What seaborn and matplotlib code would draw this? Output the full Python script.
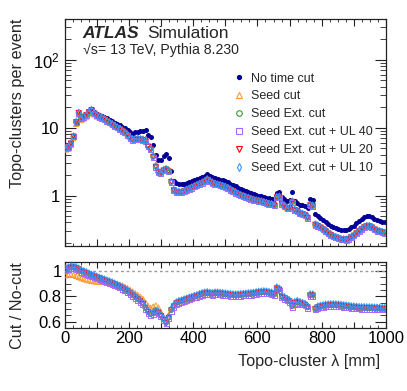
import numpy as np
import pandas as pd
import seaborn as sns
import matplotlib
matplotlib.use("Agg")
import matplotlib.pyplot as plt
from matplotlib.ticker import MultipleLocator, FixedLocator, NullFormatter, LogLocator
from matplotlib.lines import Line2D

# topo-cluster lambda bin centres, 8 mm bins from 0 to 1000 mm
lambda_mm = np.arange(4, 1000, 8)

# topo-clusters per event without any time cut
no_cut = [
    4.9, 5.0, 5.7, 7.2, 11.8, 16.3, 13.8, 14.6, 15.6, 17.4,
    18.9, 17.0, 15.9, 15.4, 15.0, 14.4, 13.7, 13.0, 12.4, 11.8,
    11.3, 10.9, 10.4, 9.9, 9.3, 8.6, 8.2, 8.5, 8.7, 8.8,
    8.9, 9.1, 7.8, 7.3, 5.6, 3.9, 3.3, 3.3, 3.8, 4.1,
    3.6, 2.3, 1.66, 1.52, 1.49, 1.47, 1.50, 1.55, 1.60, 1.65,
    1.70, 1.76, 1.82, 1.88, 1.95, 2.08, 1.97, 1.88, 1.80, 1.76,
    1.72, 1.68, 1.64, 1.58, 1.50, 1.43, 1.36, 1.30, 1.24, 1.19,
    1.15, 1.12, 1.08, 1.05, 1.02, 1.00, 0.98, 0.95, 0.93, 0.91,
    0.90, 0.88, 1.09, 1.12, 0.95, 0.88, 0.84, 0.86, 1.12, 0.82,
    0.78, 0.73, 0.72, 0.70, 0.66, 0.89, 0.87, 0.53, 0.50, 0.47,
    0.44, 0.41, 0.38, 0.36, 0.34, 0.33, 0.32, 0.31, 0.31, 0.31,
    0.32, 0.34, 0.36, 0.39, 0.42, 0.45, 0.48, 0.50, 0.50, 0.48,
    0.45, 0.43, 0.42, 0.41, 0.40,
]

# cut / no-cut ratios
ratio_seed = [
    0.965, 0.970, 0.972, 0.968, 0.960, 0.952, 0.943, 0.936, 0.930, 0.925,
    0.920, 0.917, 0.915, 0.914, 0.913, 0.911, 0.909, 0.906, 0.903, 0.899,
    0.895, 0.890, 0.885, 0.875, 0.865, 0.852, 0.838, 0.825, 0.812, 0.798,
    0.780, 0.752, 0.725, 0.710, 0.720, 0.728, 0.712, 0.675, 0.640, 0.615,
    0.655, 0.705, 0.735, 0.752, 0.759, 0.764, 0.772, 0.779, 0.786, 0.792,
    0.799, 0.806, 0.814, 0.821, 0.826, 0.829, 0.824, 0.822, 0.826, 0.826,
    0.824, 0.822, 0.819, 0.816, 0.814, 0.812, 0.811, 0.812, 0.814, 0.816,
    0.818, 0.820, 0.822, 0.824, 0.828, 0.832, 0.834, 0.836, 0.834, 0.830,
    0.826, 0.819, 0.866, 0.856, 0.799, 0.790, 0.777, 0.764, 0.726, 0.751,
    0.759, 0.751, 0.744, 0.737, 0.717, 0.811, 0.811, 0.704, 0.716, 0.722,
    0.726, 0.730, 0.732, 0.734, 0.734, 0.733, 0.732, 0.729, 0.726, 0.724,
    0.721, 0.718, 0.716, 0.714, 0.712, 0.711, 0.711, 0.710, 0.710, 0.709,
    0.708, 0.707, 0.706, 0.705, 0.704,
]
ratio_seed_ext = [
    1.013, 1.023, 1.030, 1.030, 1.025, 1.015, 1.001, 0.993, 0.985, 0.975,
    0.965, 0.958, 0.951, 0.943, 0.936, 0.928, 0.921, 0.913, 0.905, 0.896,
    0.887, 0.877, 0.867, 0.855, 0.841, 0.825, 0.811, 0.796, 0.780, 0.763,
    0.743, 0.708, 0.678, 0.663, 0.668, 0.683, 0.673, 0.648, 0.618, 0.593,
    0.633, 0.693, 0.723, 0.748, 0.758, 0.763, 0.771, 0.778, 0.785, 0.791,
    0.798, 0.805, 0.813, 0.820, 0.825, 0.828, 0.823, 0.821, 0.825, 0.825,
    0.823, 0.821, 0.818, 0.815, 0.813, 0.811, 0.810, 0.811, 0.813, 0.815,
    0.817, 0.819, 0.821, 0.823, 0.827, 0.831, 0.833, 0.835, 0.833, 0.829,
    0.825, 0.818, 0.865, 0.855, 0.798, 0.789, 0.776, 0.763, 0.725, 0.750,
    0.758, 0.750, 0.743, 0.736, 0.716, 0.810, 0.810, 0.703, 0.715, 0.721,
    0.725, 0.729, 0.731, 0.733, 0.733, 0.732, 0.731, 0.728, 0.725, 0.723,
    0.720, 0.717, 0.715, 0.713, 0.711, 0.710, 0.710, 0.709, 0.709, 0.708,
    0.707, 0.706, 0.705, 0.704, 0.703,
]
ratio_ul40 = [
    1.002, 1.012, 1.019, 1.019, 1.014, 1.004, 0.990, 0.982, 0.974, 0.964,
    0.954, 0.947, 0.940, 0.932, 0.925, 0.917, 0.910, 0.902, 0.894, 0.885,
    0.876, 0.866, 0.856, 0.844, 0.830, 0.814, 0.800, 0.785, 0.769, 0.752,
    0.732, 0.697, 0.667, 0.652, 0.657, 0.672, 0.662, 0.637, 0.607, 0.582,
    0.622, 0.682, 0.712, 0.737, 0.747, 0.752, 0.760, 0.767, 0.774, 0.780,
    0.787, 0.794, 0.802, 0.809, 0.814, 0.817, 0.812, 0.810, 0.814, 0.814,
    0.812, 0.810, 0.807, 0.804, 0.802, 0.800, 0.799, 0.800, 0.802, 0.804,
    0.806, 0.808, 0.810, 0.812, 0.816, 0.820, 0.822, 0.824, 0.822, 0.818,
    0.814, 0.807, 0.854, 0.844, 0.787, 0.778, 0.765, 0.752, 0.714, 0.739,
    0.747, 0.739, 0.732, 0.725, 0.705, 0.799, 0.799, 0.692, 0.704, 0.710,
    0.714, 0.718, 0.720, 0.722, 0.722, 0.721, 0.720, 0.717, 0.714, 0.712,
    0.709, 0.706, 0.704, 0.702, 0.700, 0.699, 0.699, 0.698, 0.698, 0.697,
    0.696, 0.695, 0.694, 0.693, 0.692,
]
ratio_ul20 = [
    1.010, 1.020, 1.027, 1.027, 1.022, 1.012, 0.998, 0.990, 0.982, 0.972,
    0.962, 0.955, 0.948, 0.940, 0.933, 0.925, 0.918, 0.910, 0.902, 0.893,
    0.884, 0.874, 0.864, 0.852, 0.838, 0.822, 0.808, 0.793, 0.777, 0.760,
    0.740, 0.705, 0.675, 0.660, 0.665, 0.680, 0.670, 0.645, 0.615, 0.590,
    0.630, 0.690, 0.720, 0.745, 0.755, 0.760, 0.768, 0.775, 0.782, 0.788,
    0.795, 0.802, 0.810, 0.817, 0.822, 0.825, 0.820, 0.818, 0.822, 0.822,
    0.820, 0.818, 0.815, 0.812, 0.810, 0.808, 0.807, 0.808, 0.810, 0.812,
    0.814, 0.816, 0.818, 0.820, 0.824, 0.828, 0.830, 0.832, 0.830, 0.826,
    0.822, 0.815, 0.862, 0.852, 0.795, 0.786, 0.773, 0.760, 0.722, 0.747,
    0.755, 0.747, 0.740, 0.733, 0.713, 0.807, 0.807, 0.700, 0.712, 0.718,
    0.722, 0.726, 0.728, 0.730, 0.730, 0.729, 0.728, 0.725, 0.722, 0.720,
    0.717, 0.714, 0.712, 0.710, 0.708, 0.707, 0.707, 0.706, 0.706, 0.705,
    0.704, 0.703, 0.702, 0.701, 0.700,
]
ratio_ul10 = [
    1.018, 1.028, 1.035, 1.035, 1.030, 1.020, 1.006, 0.998, 0.990, 0.980,
    0.970, 0.963, 0.956, 0.948, 0.941, 0.933, 0.926, 0.918, 0.910, 0.901,
    0.892, 0.882, 0.872, 0.860, 0.846, 0.830, 0.816, 0.801, 0.785, 0.768,
    0.748, 0.713, 0.683, 0.668, 0.673, 0.688, 0.678, 0.653, 0.623, 0.598,
    0.638, 0.698, 0.728, 0.753, 0.763, 0.768, 0.776, 0.783, 0.790, 0.796,
    0.803, 0.810, 0.818, 0.825, 0.830, 0.833, 0.828, 0.826, 0.830, 0.830,
    0.828, 0.826, 0.823, 0.820, 0.818, 0.816, 0.815, 0.816, 0.818, 0.820,
    0.822, 0.824, 0.826, 0.828, 0.832, 0.836, 0.838, 0.840, 0.838, 0.834,
    0.830, 0.823, 0.870, 0.860, 0.803, 0.794, 0.781, 0.768, 0.730, 0.755,
    0.763, 0.755, 0.748, 0.741, 0.721, 0.815, 0.815, 0.708, 0.720, 0.726,
    0.730, 0.734, 0.736, 0.738, 0.738, 0.737, 0.736, 0.733, 0.730, 0.728,
    0.725, 0.722, 0.720, 0.718, 0.716, 0.715, 0.715, 0.714, 0.714, 0.713,
    0.712, 0.711, 0.710, 0.709, 0.708,
]

series_names = ["Seed cut", "Seed Ext. cut", "Seed Ext. cut + UL 40",
                "Seed Ext. cut + UL 20", "Seed Ext. cut + UL 10"]
series_ratios = [ratio_seed, ratio_seed_ext, ratio_ul40, ratio_ul20, ratio_ul10]
series_colors = ["#ff9933", "#339933", "#aa66ff", "#ff0000", "#3399ff"]
series_markers = ["^", "o", "s", "v", "d"]
nocut_color = "#000099"

sns.set_style("ticks")
plt.rcParams["font.family"] = ["Liberation Sans", "DejaVu Sans"]
plt.rcParams["mathtext.fontset"] = "custom"
plt.rcParams["mathtext.rm"] = "Liberation Sans"
plt.rcParams["mathtext.it"] = "Liberation Sans:italic"
plt.rcParams["axes.edgecolor"] = "#222222"
plt.rcParams["axes.linewidth"] = 0.9

rows = []
for name, ratio in zip(series_names, series_ratios):
    for lam, nc, r in zip(lambda_mm, no_cut, ratio):
        rows.append({"lambda": lam, "series": name, "ratio": r, "value": nc * r})
df = pd.DataFrame(rows)
df_nocut = pd.DataFrame({"lambda": lambda_mm, "value": no_cut})

fig = plt.figure(figsize=(4.07, 3.91), dpi=100)
ax = fig.add_axes([0.1585, 0.3708, 0.790, 0.5806])
rax = fig.add_axes([0.1585, 0.1611, 0.790, 0.1688])

# main panel
sns.scatterplot(data=df_nocut, x="lambda", y="value", ax=ax, color=nocut_color,
                edgecolor=nocut_color, marker="o", s=13, linewidth=0, zorder=2)
for name, c, m in zip(series_names, series_colors, series_markers):
    sub = df[df["series"] == name]
    sns.scatterplot(data=sub, x="lambda", y="value", ax=ax, marker=m, s=13,
                    facecolor="none", edgecolor=c, linewidth=0.7, zorder=3)
    sns.scatterplot(data=sub, x="lambda", y="ratio", ax=rax, marker=m, s=13,
                    facecolor="none", edgecolor=c, linewidth=0.7, zorder=3)

ax.set_yscale("log")
ax.set_xlim(0, 1000)
ax.set_ylim(0.18, 400)
ax.yaxis.set_major_locator(FixedLocator([1, 10, 100]))
ax.set_yticklabels(["1", "10", "10$^{2}$"])
ax.yaxis.set_minor_locator(LogLocator(base=10, subs=np.arange(2, 10)))
ax.yaxis.set_minor_formatter(NullFormatter())
ax.xaxis.set_major_locator(MultipleLocator(100))
ax.xaxis.set_minor_locator(MultipleLocator(25))
ax.set_xticklabels([])
ax.set_xlabel("")
ax.set_ylabel("Topo-clusters per event", fontsize=11.7, loc="top")
ax.yaxis.set_label_coords(-0.122, 1.0)
ax.tick_params(axis="both", which="both", direction="in", top=True, right=True,
               labelsize=12, colors="#222222", labelcolor="black")
ax.tick_params(axis="y", which="major", length=8, pad=3.5)
ax.tick_params(axis="y", which="minor", length=4)
ax.tick_params(axis="x", which="major", length=5)
ax.tick_params(axis="x", which="minor", length=2.5)

# ratio panel
rax.axhline(1.0, color="#999999", lw=1.0, ls=(0, (2, 2)), zorder=1)
rax.set_xlim(0, 1000)
rax.set_ylim(0.55, 1.07)
rax.yaxis.set_major_locator(FixedLocator([0.6, 0.8, 1.0]))
rax.set_yticklabels(["0.6", "0.8", "1"])
rax.yaxis.set_minor_locator(MultipleLocator(0.05))
rax.xaxis.set_minor_locator(MultipleLocator(25))
rax.set_xticks(np.arange(0, 1001, 100))
rax.set_xticklabels([str(v) if v % 200 == 0 else "" for v in range(0, 1001, 100)])
rax.tick_params(axis="both", which="both", direction="in", top=True, right=True,
                labelsize=12, colors="#222222", labelcolor="black")
rax.tick_params(axis="y", which="major", length=8, pad=2)
rax.tick_params(axis="y", which="minor", length=4)
rax.tick_params(axis="x", which="major", length=4, pad=2)
rax.tick_params(axis="x", which="minor", length=2)
rax.set_ylabel("Cut / No-cut", fontsize=11.7, loc="top")
rax.yaxis.set_label_coords(-0.122, 1.0)
rax.set_xlabel("Topo-cluster λ [mm]", fontsize=11.7, loc="right")
rax.xaxis.set_label_coords(0.982, -0.39)

# labels
ax.text(0.054, 0.915, "ATLAS", transform=ax.transAxes, fontsize=12.5,
        fontweight="bold", fontstyle="italic", va="baseline")
ax.text(0.256, 0.915, "Simulation", transform=ax.transAxes, fontsize=12.5,
        va="baseline")
ax.text(0.056, 0.845, "√s= 13 TeV, Pythia 8.230", transform=ax.transAxes,
        fontsize=10.2, va="baseline")

handles = [Line2D([], [], ls="none", marker="o", ms=3.8, color=nocut_color,
                  markeredgewidth=0)]
for c, m in zip(series_colors, series_markers):
    handles.append(Line2D([], [], ls="none", marker=m, ms=4, markerfacecolor="none",
                          markeredgecolor=c, markeredgewidth=0.8))
ax.legend(handles, ["No time cut"] + series_names, loc="upper left",
          bbox_to_anchor=(0.526, 0.764), frameon=False, fontsize=9.0,
          handlelength=0.8, handletextpad=0.55, labelspacing=0.47,
          borderpad=0, borderaxespad=0)

fig.savefig("out.png", dpi=100)
